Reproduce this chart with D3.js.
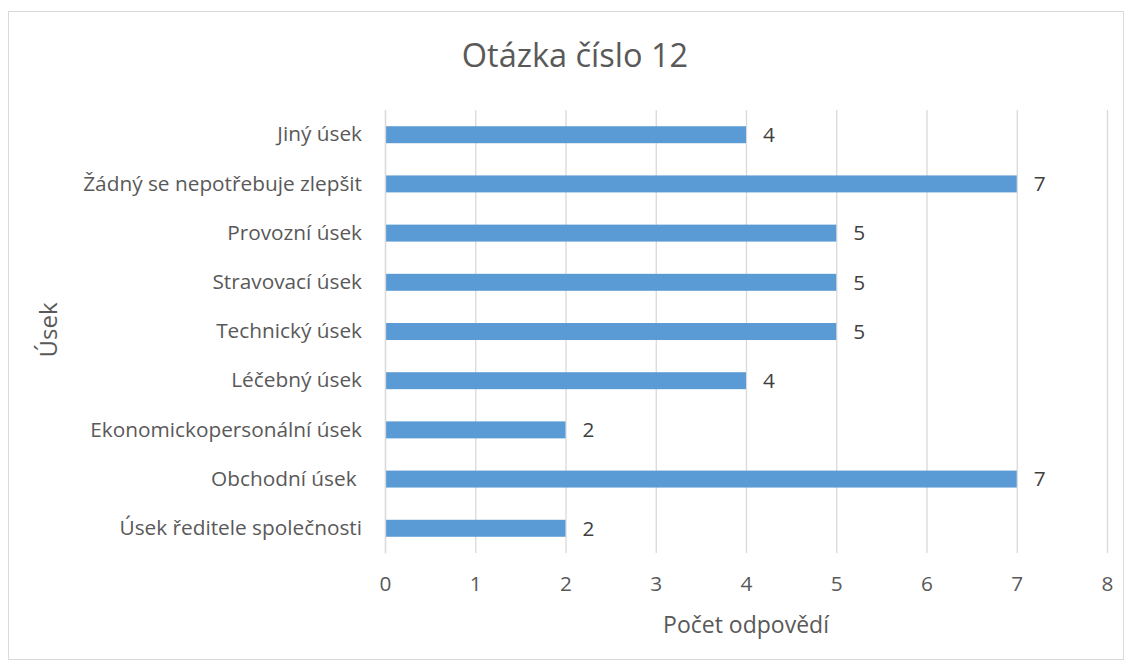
<!DOCTYPE html>
<html><head><meta charset="utf-8">
<script src="https://cdn.jsdelivr.net/npm/d3@7"></script>
<style>body{margin:0;background:#fff}svg{display:block}text{white-space:pre}</style>
</head><body>
<svg id="c" width="1132" height="666"></svg>
<script>
const categories = ["Jiný úsek","Žádný se nepotřebuje zlepšit","Provozní úsek","Stravovací úsek","Technický úsek","Léčebný úsek","Ekonomickopersonální úsek","Obchodní úsek ","Úsek ředitele společnosti"];
const values = [4,7,5,5,5,4,2,7,2];
const xTicks = [0,1,2,3,4,5,6,7,8];
const title = "Otázka číslo 12";
const xTitle = "Počet odpovědí";
const yTitle = "Úsek";

const font = "'Open Sans', sans-serif";
const svg = d3.select("#c");
svg.append("rect").attr("x",8.5).attr("y",11.5).attr("width",1115).attr("height",648)
  .attr("fill","#fff").attr("stroke","#D9D9D9");

const m = {l:385, r:1107, t:110, b:553};
const x = d3.scaleLinear().domain([0,8]).range([m.l,m.r]);
const y = d3.scaleBand().domain(categories).range([m.t,m.b]).paddingInner(0.655).paddingOuter(0.33);

const grid = svg.append("g").attr("transform",`translate(0,${m.b})`)
  .call(d3.axisBottom(x).tickValues(xTicks).tickSize(-(m.b-m.t)).tickPadding(23));
grid.select(".domain").remove();
grid.selectAll(".tick line").attr("stroke","#D9D9D9").attr("stroke-width",1.3);
grid.selectAll(".tick text").attr("fill","#595959").attr("font-size","20.8px").attr("font-family",font);

svg.append("g").selectAll("rect").data(values).join("rect")
  .attr("x",x(0)).attr("y",(d,i)=>y(categories[i]))
  .attr("width",d=>x(d)-x(0)).attr("height",y.bandwidth()).attr("fill","#5B9BD5");

svg.append("g").selectAll("text").data(values).join("text")
  .attr("x",d=>x(d)+17).attr("y",(d,i)=>y(categories[i])+y.bandwidth()/2)
  .attr("dy","0.35em").attr("fill","#404040").attr("font-size","20.8px").attr("font-family",font)
  .text(d=>d);

const ya = svg.append("g").attr("transform",`translate(${m.l},0)`)
  .call(d3.axisLeft(y).tickSize(0).tickPadding(23));
ya.select(".domain").attr("stroke","#D9D9D9").attr("stroke-width",1.3);
ya.selectAll(".tick text").attr("fill","#595959").attr("font-size","20.8px").attr("font-family",font);

svg.append("text").attr("x",575).attr("y",67).attr("text-anchor","middle")
  .attr("fill","#595959").attr("font-size","32.5px").attr("font-family",font).text(title);
svg.append("text").attr("x",746).attr("y",633).attr("text-anchor","middle")
  .attr("fill","#595959").attr("font-size","23px").attr("font-family",font).text(xTitle);
svg.append("text").attr("transform","translate(57,330) rotate(-90)").attr("text-anchor","middle")
  .attr("fill","#595959").attr("font-size","24px").attr("font-family",font).text(yTitle);
</script>
</body></html>
